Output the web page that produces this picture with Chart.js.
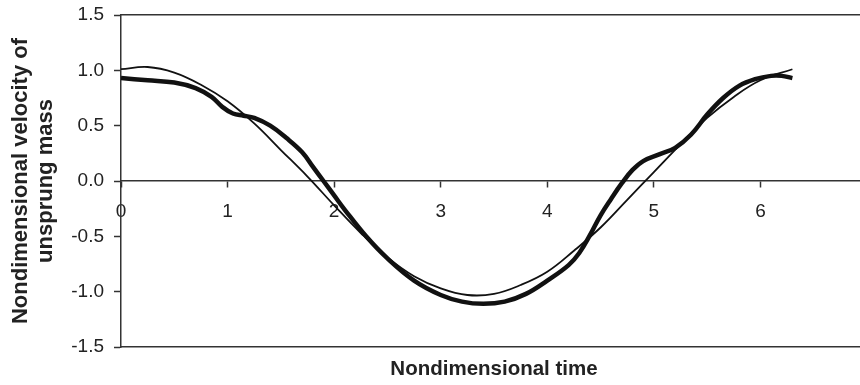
<!DOCTYPE html>
<html>
<head>
<meta charset="utf-8">
<script src="https://cdn.jsdelivr.net/npm/chart.js@4/dist/chart.umd.min.js"></script>
<style>
  html, body { margin: 0; padding: 0; background: #fff; overflow: hidden; }
</style>
</head>
<body>
<canvas id="c" width="867" height="385"></canvas>
<script>
// Tick positions on both axes
const timeTicks = [0, 1, 2, 3, 4, 5, 6];
const velocityTicks = [-1.5, -1.0, -0.5, 0, 0.5, 1.0, 1.5];

// Computed response (heavy curve)
const responseTime = [0, 0.25, 0.5, 0.7, 0.85, 0.95, 1.05, 1.15, 1.25, 1.4, 1.55, 1.7, 1.8, 1.9, 2.0, 2.1, 2.3, 2.5, 2.75, 3.0, 3.2, 3.4, 3.6, 3.8, 4.0, 4.2, 4.3, 4.4, 4.5, 4.6, 4.7, 4.8, 4.9, 5.05, 5.2, 5.35, 5.5, 5.65, 5.8, 5.95, 6.1, 6.2, 6.3];
const responseVelocity = [0.93, 0.91, 0.89, 0.84, 0.76, 0.67, 0.61, 0.59, 0.57, 0.50, 0.39, 0.26, 0.13, 0.0, -0.13, -0.26, -0.50, -0.70, -0.90, -1.03, -1.09, -1.11, -1.09, -1.02, -0.90, -0.76, -0.65, -0.49, -0.31, -0.16, -0.02, 0.10, 0.18, 0.24, 0.30, 0.42, 0.60, 0.75, 0.86, 0.92, 0.95, 0.95, 0.93];

// Single-harmonic reference (light curve)
const harmonicTime = [0, 0.25, 0.5, 0.75, 1, 1.25, 1.5, 1.75, 2, 2.25, 2.5, 2.75, 3, 3.25, 3.5, 3.75, 4, 4.25, 4.5, 4.75, 5, 5.25, 5.5, 5.75, 6, 6.3];
const harmonicVelocity = [1.01, 1.03, 0.98, 0.87, 0.72, 0.52, 0.28, 0.04, -0.22, -0.47, -0.69, -0.86, -0.97, -1.03, -1.02, -0.94, -0.82, -0.63, -0.42, -0.17, 0.08, 0.33, 0.57, 0.76, 0.91, 1.01];

const FONT = "'Liberation Sans', Arial, sans-serif";
const AXIS = '#333';
const INK = '#111';

const toPoints = (xs, ys) => xs.map((x, i) => ({ x, y: ys[i] }));

new Chart(document.getElementById('c'), {
  type: 'line',
  data: {
    datasets: [
      {
        data: toPoints(harmonicTime, harmonicVelocity),
        borderColor: INK,
        borderWidth: 1.8,
        pointRadius: 0,
        tension: 0.4,
        xAxisID: 'x',
        yAxisID: 'y'
      },
      {
        data: toPoints(responseTime, responseVelocity),
        borderColor: INK,
        borderWidth: 4.5,
        pointRadius: 0,
        tension: 0.4,
        xAxisID: 'x',
        yAxisID: 'y'
      }
    ]
  },
  options: {
    responsive: false,
    animation: false,
    layout: { padding: { top: 15, right: 0, bottom: 0, left: 0 } },
    plugins: { legend: { display: false }, tooltip: { enabled: false } },
    scales: {
      x: {
        type: 'linear',
        position: { y: 0 },
        min: 0,
        max: 7,
        afterBuildTicks: s => { s.ticks = timeTicks.map(v => ({ value: v })); },
        ticks: { font: { family: FONT, size: 19 }, color: '#222', padding: 13, maxRotation: 0, autoSkip: false },
        grid: { drawOnChartArea: false, drawTicks: true, tickLength: 6, tickColor: AXIS, tickWidth: 1.5 },
        border: { display: true, color: AXIS, width: 1.5 }
      },
      xt: {
        type: 'linear',
        position: 'top',
        min: 0,
        max: 7,
        ticks: { display: false },
        grid: { display: false },
        border: { display: true, color: AXIS, width: 1.5 },
        afterFit: s => { s.height = 0; }
      },
      xb: {
        type: 'linear',
        position: 'bottom',
        min: 0,
        max: 7,
        ticks: { display: false },
        grid: { display: false },
        border: { display: true, color: AXIS, width: 1.5 },
        title: {
          display: true,
          text: 'Nondimensional time',
          font: { family: FONT, size: 20.5, weight: 'bold' },
          color: '#222',
          padding: { top: 0, bottom: 3 }
        },
        afterFit: s => { s.height = 38; }
      },
      y: {
        type: 'linear',
        position: 'left',
        min: -1.5,
        max: 1.5,
        afterBuildTicks: s => { s.ticks = velocityTicks.map(v => ({ value: v })); },
        afterFit: s => { s.width = 121; s.paddingTop = 0; s.paddingBottom = 0; },
        ticks: { font: { family: FONT, size: 19 }, color: '#222', padding: 10, callback: v => Number(v).toFixed(1) },
        grid: { drawOnChartArea: false, drawTicks: true, tickLength: 7, tickColor: AXIS, tickWidth: 1.5 },
        border: { display: true, color: AXIS, width: 1.5 },
        title: {
          display: true,
          text: ['Nondimensional velocity of', 'unsprung mass'],
          font: { family: FONT, size: 22, weight: 'bold', lineHeight: 1.15 },
          color: '#222',
          padding: { top: 8, bottom: 0 }
        }
      }
    }
  }
});
</script>
</body>
</html>
